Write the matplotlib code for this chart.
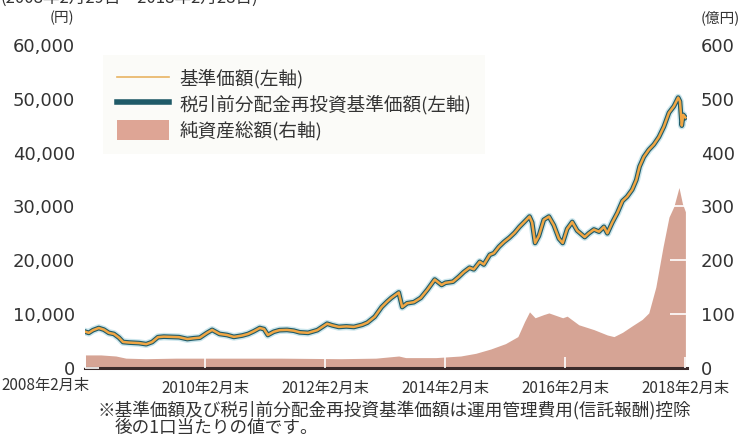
import matplotlib
matplotlib.use("Agg")
import matplotlib.pyplot as plt
import pandas as pd
from matplotlib.lines import Line2D
from matplotlib.patches import Patch

plt.rcParams['font.family'] = ['DejaVu Sans', 'Noto Sans CJK JP']

# 基準価額 (円)
nav_dates = [
    '2008-02-29', '2008-03-20', '2008-04-15', '2008-05-20', '2008-06-20', '2008-07-20',
    '2008-08-20', '2008-09-20', '2008-10-15', '2008-11-20', '2008-12-20', '2009-01-20',
    '2009-03-05', '2009-04-10', '2009-05-15', '2009-06-20', '2009-08-05', '2009-09-20',
    '2009-11-10', '2009-12-20', '2010-01-25', '2010-03-10', '2010-04-10', '2010-05-25',
    '2010-07-10', '2010-08-20', '2010-10-10', '2010-11-15', '2010-12-20', '2011-01-25',
    '2011-02-20', '2011-03-15', '2011-04-20', '2011-05-25', '2011-07-10', '2011-08-20',
    '2011-09-25', '2011-11-15', '2012-01-10', '2012-03-10', '2012-04-10', '2012-05-20',
    '2012-07-05', '2012-08-20', '2012-10-10', '2012-11-10', '2012-12-25', '2013-02-05',
    '2013-03-10', '2013-04-05', '2013-05-20', '2013-06-10', '2013-07-10', '2013-08-20',
    '2013-10-01', '2013-11-10', '2013-12-25', '2014-02-05', '2014-02-28', '2014-04-15',
    '2014-05-20', '2014-06-20', '2014-07-25', '2014-08-20', '2014-09-25', '2014-10-20',
    '2014-11-25', '2014-12-20', '2015-01-20', '2015-02-20', '2015-03-25', '2015-04-25',
    '2015-05-25', '2015-06-20', '2015-07-25', '2015-08-10', '2015-08-28', '2015-09-20',
    '2015-10-20', '2015-11-20', '2015-12-20', '2016-01-20', '2016-02-12', '2016-03-10',
    '2016-04-10', '2016-05-10', '2016-06-25', '2016-07-20', '2016-08-20', '2016-09-20',
    '2016-10-20', '2016-11-10', '2016-12-10', '2017-01-10', '2017-02-10', '2017-03-10',
    '2017-04-10', '2017-05-05', '2017-05-25', '2017-06-20', '2017-07-20', '2017-08-20',
    '2017-09-20', '2017-10-20', '2017-11-20', '2017-12-20', '2018-01-15', '2018-01-26',
    '2018-02-06', '2018-02-15', '2018-02-28',
]
nav_values = [
    6700, 6500, 7000, 7400, 7100, 6500,
    6300, 5600, 4800, 4700, 4650, 4600,
    4400, 4800, 5700, 5800, 5750, 5700,
    5350, 5500, 5600, 6500, 7050, 6300,
    6100, 5750, 6000, 6300, 6800, 7400,
    7200, 6100, 6700, 7000, 7050, 6900,
    6600, 6500, 7000, 8200, 7900, 7600,
    7700, 7600, 8000, 8400, 9500, 11300,
    12300, 13000, 14000, 11300, 12000, 12200,
    13000, 14500, 16400, 15400, 15800, 16000,
    16900, 17800, 18600, 18300, 19700, 19200,
    21000, 21300, 22500, 23400, 24200, 25100,
    26200, 27000, 28100, 27000, 23200, 24500,
    27500, 28100, 26500, 24000, 23200, 25800,
    27100, 25500, 24300, 25000, 25700, 25300,
    26200, 25000, 27000, 28800, 31000, 31800,
    33100, 34900, 37400, 39200, 40500, 41500,
    42900, 44800, 47400, 48600, 50200, 49500,
    45000, 47000, 46500,
]
# 税引前分配金再投資基準価額 (分配実績なしのため基準価額と同じ)
reinv_values = list(nav_values)

# 純資産総額 (億円)
asset_dates = [
    '2008-02-29', '2008-06-01', '2008-09-01', '2008-11-01', '2009-03-01', '2009-09-01',
    '2010-06-01', '2011-06-01', '2012-06-01', '2013-01-01', '2013-05-20', '2013-07-01',
    '2014-01-01', '2014-06-01', '2014-09-01', '2014-12-01', '2015-03-01', '2015-05-15',
    '2015-06-25', '2015-07-25', '2015-08-28', '2015-10-20', '2015-11-20', '2016-02-12',
    '2016-03-10', '2016-05-20', '2016-08-20', '2016-11-10', '2016-12-20', '2017-02-10',
    '2017-04-10', '2017-06-10', '2017-07-20', '2017-09-01', '2017-10-15', '2017-11-20',
    '2017-12-20', '2018-01-20', '2018-02-10', '2018-02-28',
]
asset_values = [
    24, 24, 22, 18, 17, 18,
    18, 18, 17, 18, 22, 19,
    19, 22, 27, 35, 45, 58,
    86, 104, 93, 99, 102, 93,
    96, 80, 71, 61, 58, 66,
    78, 90, 102, 150, 225, 280,
    300, 335, 305, 290,
]

tick_dates = ['2008-02-29', '2010-02-28', '2012-02-29', '2014-02-28', '2016-02-29', '2018-02-28']
tick_labels = ['2008年2月末', '2010年2月末', '2012年2月末', '2014年2月末', '2016年2月末', '2018年2月末']

nav_x = pd.to_datetime(nav_dates)
asset_x = pd.to_datetime(asset_dates)
tick_x = pd.to_datetime(tick_dates)

text_col = '#333333'
bg_col = '#e3e4d6'
area_col = '#d6a495'
teal = '#1f5a68'
orange = '#f0a644'
jp = ['Noto Sans CJK JP']

fig = plt.figure(figsize=(7.44, 4.40), dpi=100)
ax = fig.add_axes([0.114, 0.164, 0.809, 0.734])
ax2 = ax.twinx()

# right axis (area) behind the price lines
ax.set_zorder(ax2.get_zorder() + 1)
ax.patch.set_visible(False)
ax2.patch.set_facecolor(bg_col)

ax2.fill_between(asset_x, asset_values, 0, color=area_col, linewidth=0)
ax2.set_ylim(0, 600)
ax2.set_yticks(range(0, 601, 100))

ax.plot(nav_x, reinv_values, color='#a8d4df', lw=5.5, alpha=0.6, solid_joinstyle='round')
ax.plot(nav_x, reinv_values, color=teal, lw=3.4, solid_joinstyle='round')
ax.plot(nav_x, nav_values, color=orange, lw=1.8, solid_joinstyle='round')
ax.set_ylim(0, 60000)
ax.set_yticks(range(0, 60001, 10000))
ax.set_yticklabels([f'{v:,}' for v in range(0, 60001, 10000)])
ax.set_xlim(pd.Timestamp('2008-02-25'), pd.Timestamp('2018-03-08'))
ax.set_xticks(tick_x)
# first label is placed by hand at the left edge (as in the original layout)
ax.set_xticklabels([''] + tick_labels[1:])

for a in (ax, ax2):
    for s in a.spines.values():
        s.set_visible(False)
ax2.spines['bottom'].set_visible(True)
ax2.spines['bottom'].set_color('#3b2b2b')
ax2.spines['bottom'].set_linewidth(2.2)

ax.tick_params(axis='y', direction='in', length=10, width=1.2, color='white',
               labelsize=13, labelcolor=text_col, pad=7)
ax2.tick_params(axis='y', direction='in', length=12, width=1.2, color='white',
                labelsize=13, labelcolor=text_col, pad=10)
ax.tick_params(axis='x', direction='in', length=8, width=1.2, color='white',
               labelsize=11, labelcolor=text_col, pad=9)
ax2.tick_params(axis='x', length=0)
for lab in ax.get_xticklabels():
    lab.set_family(jp)

fig.text(1 / 744, 1 - 377 / 440, tick_labels[0], ha='left', va='top', fontsize=11,
         color=text_col, family=jp)

handles = [
    Line2D([0], [0], color='#e8b462', lw=1.2),
    Line2D([0], [0], color=teal, lw=4),
    Patch(facecolor='#dea595', edgecolor='none'),
]
labels = ['基準価額(左軸)', '税引前分配金再投資基準価額(左軸)', '純資産総額(右軸)']
leg = ax.legend(handles, labels, loc='upper left', bbox_to_anchor=(0.03, 0.97),
                borderaxespad=0, frameon=True, fancybox=False, handlelength=2.8,
                handleheight=1.3, handletextpad=0.55, labelspacing=0.28, borderpad=0.75,
                prop={'family': jp, 'size': 13.4})
leg.get_frame().set_facecolor('#fbfbf8')
leg.get_frame().set_edgecolor('none')
leg.get_frame().set_alpha(1)
for t in leg.get_texts():
    t.set_color(text_col)

fig.text(62 / 744, 1 - 18 / 440, '(円)', ha='center', va='center', fontsize=10.5,
         color=text_col, family=jp)
fig.text(720 / 744, 1 - 18 / 440, '(億円)', ha='center', va='center', fontsize=10.5,
         color=text_col, family=jp)
fig.text(0.0, 1.005, '(2008年2月29日～2018年2月28日)', ha='left', va='center', fontsize=12,
         color=text_col, family=jp)
fig.text(98 / 744, 1 - 410 / 440,
         '※基準価額及び税引前分配金再投資基準価額は運用管理費用(信託報酬)控除',
         ha='left', va='center', fontsize=12.7, color=text_col, family=jp)
fig.text(115 / 744, 1 - 428 / 440, '後の1口当たりの値です。',
         ha='left', va='center', fontsize=12.7, color=text_col, family=jp)

plt.savefig('out.png', dpi=100, facecolor='white')
